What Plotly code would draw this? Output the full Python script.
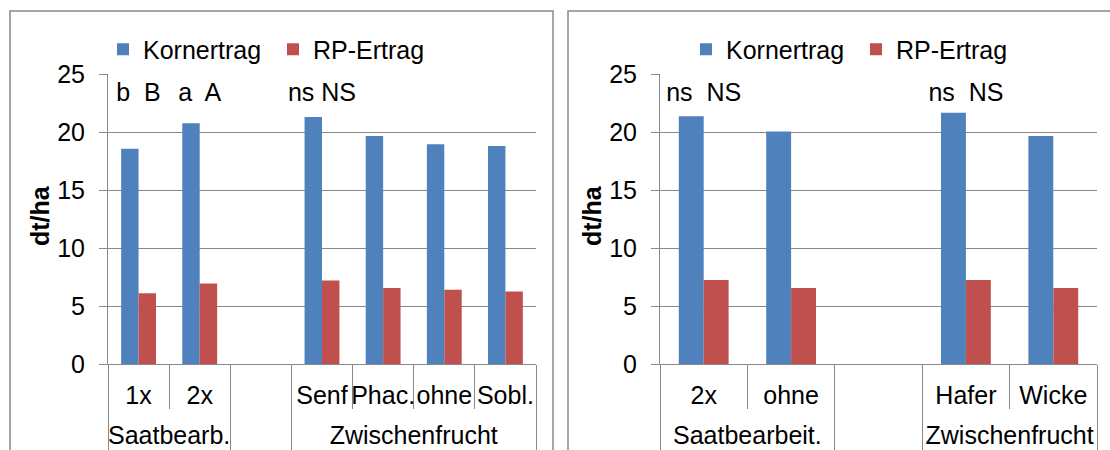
import plotly.graph_objects as go

# ---- data ----
left_groups = ["Saatbearb.", "Saatbearb.", " ", "Zwischenfrucht", "Zwischenfrucht", "Zwischenfrucht", "Zwischenfrucht"]
left_cats = ["1x", "2x", " ", "Senf", "Phac.", "ohne", "Sobl."]
left_korn = [18.55, 20.75, None, 21.3, 19.65, 18.95, 18.8]
left_rp = [6.1, 6.95, None, 7.2, 6.55, 6.4, 6.25]
left_sig = ["b  B", "a  A", "", "ns NS", "", "", ""]

right_groups = ["Saatbearbeit.", "Saatbearbeit.", " ", "Zwischenfrucht", "Zwischenfrucht"]
right_cats = ["2x", "ohne", " ", "Hafer", "Wicke"]
right_korn = [21.35, 20.05, None, 21.65, 19.65]
right_rp = [7.25, 6.55, None, 7.25, 6.55]
right_sig = ["ns  NS", "", "", "ns  NS", ""]

sig_level = 23.2
y_ticks = [0, 5, 10, 15, 20, 25]

BLUE = "#4f81bd"
RED = "#c0504d"
GRID = "#888888"
FONT = "Liberation Sans, Arial, sans-serif"
FS = 25

W, H = 1110, 450

fig = go.Figure()


def group_layout(groups):
    """Group boundaries (category index space) and centres of the non-blank groups."""
    bounds = [-0.5]
    centers, names = [], []
    start = 0
    for i in range(1, len(groups) + 1):
        if i == len(groups) or groups[i] != groups[start]:
            bounds.append(i - 0.5)
            if groups[start].strip():
                centers.append((start + i - 1) / 2)
                names.append(groups[start])
            start = i
    return bounds, centers, names


def add_panel(cats, korn, rp, sig, xa, ya, xg, leg):
    fig.add_trace(go.Bar(x=cats, y=korn, name="Kornertrag", marker=dict(color=BLUE, line=dict(width=0)),
                         xaxis=xa, yaxis=ya, legend=leg))
    fig.add_trace(go.Bar(x=cats, y=rp, name="RP-Ertrag", marker=dict(color=RED, line=dict(width=0)),
                         xaxis=xa, yaxis=ya, legend=leg))
    fig.add_trace(go.Scatter(x=cats, y=[sig_level if s else None for s in sig], text=sig, mode="text",
                             textposition="middle center", textfont=dict(size=FS, color="black", family=FONT),
                             showlegend=False, hoverinfo="skip", xaxis=xa, yaxis=ya))
    # empty trace so that the overlaid group-label axis gets drawn
    fig.add_trace(go.Scatter(x=[], y=[], mode="markers", showlegend=False, hoverinfo="skip",
                             xaxis=xg, yaxis=ya))


add_panel(left_cats, left_korn, left_rp, left_sig, "x", "y", "x3", "legend")
add_panel(right_cats, right_korn, right_rp, right_sig, "x2", "y2", "x4", "legend2")

y_dom = [(H - 364) / H, (H - 74) / H]


def cat_axis(dom, anchor, n):
    return dict(domain=dom, anchor=anchor, type="category", range=[-0.5, n - 0.5],
                showline=True, linecolor=GRID, linewidth=1,
                ticks="outside", tickson="boundaries", ticklen=44, tickcolor=GRID, tickwidth=1, tickangle=0,
                tickfont=dict(size=FS, color="black", family=FONT), automargin=False,
                ticklabelstandoff=9, showgrid=False, zeroline=False)


def group_axis(over, anchor, groups):
    bounds, centers, names = group_layout(groups)
    return dict(overlaying=over, anchor=anchor, type="linear", range=[-0.5, len(groups) - 0.5],
                tickmode="array", tickvals=centers, ticktext=names, ticks="", showline=False,
                showgrid=False, zeroline=False, tickangle=0,
                tickfont=dict(size=FS, color="black", family=FONT), automargin=False,
                ticklabelstandoff=54,
                minor=dict(tickmode="array", tickvals=bounds, ticks="outside", ticklen=90,
                           tickcolor=GRID, tickwidth=1, showgrid=False))


def yaxis_cfg(anchor):
    return dict(domain=y_dom, anchor=anchor, range=[0, 25], tickvals=y_ticks, showline=True, linecolor=GRID,
                linewidth=1, ticks="outside", ticklen=8, tickcolor=GRID, showgrid=True, gridcolor=GRID,
                gridwidth=1, zeroline=False, tickfont=dict(size=FS, color="black", family=FONT),
                automargin=False, ticklabelstandoff=9)


fig.update_layout(
    width=W, height=H,
    margin=dict(l=0, r=0, t=0, b=0),
    paper_bgcolor="white", plot_bgcolor="white",
    font=dict(family=FONT, size=FS, color="black"),
    bargap=0.43, bargroupgap=0,
    barmode="group",
    xaxis=cat_axis([108 / W, 536 / W], "y", len(left_cats)),
    yaxis=yaxis_cfg("x"),
    xaxis2=cat_axis([660 / W, 1097 / W], "y2", len(right_cats)),
    yaxis2=yaxis_cfg("x2"),
    xaxis3=group_axis("x", "y", left_groups),
    xaxis4=group_axis("x2", "y2", right_groups),
    legend=dict(orientation="h", x=(123 - 20) / W, xanchor="left", y=1 - 49.5 / H, yanchor="middle",
                font=dict(size=FS, family=FONT, color="black"), entrywidth=125, bgcolor="rgba(0,0,0,0)"),
    legend2=dict(orientation="h", x=(706 - 20) / W, xanchor="left", y=1 - 49.5 / H, yanchor="middle",
                 font=dict(size=FS, family=FONT, color="black"), entrywidth=125, bgcolor="rgba(0,0,0,0)"),
    shapes=[
        dict(type="rect", xref="paper", yref="paper", x0=10 / W, x1=553 / W, y0=-0.2, y1=1 - 11 / H,
             line=dict(color=GRID, width=1.5), layer="below"),
        dict(type="rect", xref="paper", yref="paper", x0=568 / W, x1=1.2, y0=-0.2, y1=1 - 11 / H,
             line=dict(color=GRID, width=1.5), layer="below"),
    ],
    annotations=[
        dict(text="<b>dt/ha</b>", xref="paper", yref="paper", x=40 / W, y=(H - 216) / H, textangle=-90,
             showarrow=False, font=dict(size=FS, family=FONT, color="black"), xanchor="center", yanchor="middle"),
        dict(text="<b>dt/ha</b>", xref="paper", yref="paper", x=592 / W, y=(H - 216) / H, textangle=-90,
             showarrow=False, font=dict(size=FS, family=FONT, color="black"), xanchor="center", yanchor="middle"),
    ],
)

fig.write_html("out.html", config={"displayModeBar": False},
               post_script="document.body.style.margin='0px';document.body.style.overflow='hidden';")
